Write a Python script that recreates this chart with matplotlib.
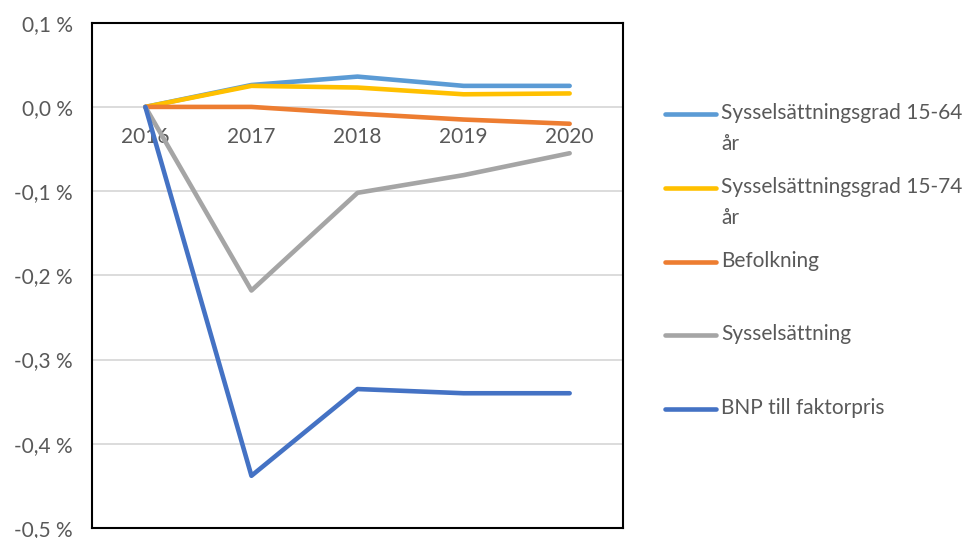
import matplotlib
matplotlib.use("Agg")
import matplotlib.pyplot as plt
from matplotlib.lines import Line2D

years = ["2016", "2017", "2018", "2019", "2020"]
syss_grad_1564 = [0.0, 0.026, 0.036, 0.025, 0.025]
syss_grad_1574 = [0.0, 0.025, 0.023, 0.015, 0.016]
befolkning = [0.0, 0.0, -0.008, -0.015, -0.020]
sysselsattning = [0.0, -0.218, -0.102, -0.081, -0.055]
bnp = [0.0, -0.438, -0.335, -0.340, -0.340]

labels = ["Sysselsättningsgrad 15-64\når", "Sysselsättningsgrad 15-74\når",
          "Befolkning", "Sysselsättning", "BNP till faktorpris"]
colors = ["#5B9BD5", "#FFC000", "#ED7D31", "#A5A5A5", "#4472C4"]
series = [syss_grad_1564, syss_grad_1574, befolkning, sysselsattning, bnp]

plt.rcParams["font.family"] = ["Lato", "DejaVu Sans"]
text_color = "#595959"

fig = plt.figure(figsize=(9.76, 5.38), dpi=100)
ax = fig.add_axes([0.0946, 0.0186, 0.5434, 0.9392])

x = list(range(len(years)))
for vals, col in zip(series, colors):
    ax.plot(x, vals, color=col, lw=3.3, solid_capstyle="round",
            solid_joinstyle="round", zorder=3)

ax.set_xlim(-0.5, len(years) - 0.5)
ax.set_ylim(-0.5, 0.1)
yt = [0.1, 0.0, -0.1, -0.2, -0.3, -0.4, -0.5]
ax.set_yticks(yt)
ax.set_yticklabels([f"{v:.1f}".replace(".", ",") + " %" for v in yt],
                   fontsize=15, color=text_color)
ax.tick_params(axis="y", length=0, pad=14)
ax.set_xticks([])
ax.grid(axis="y", color="#D9D9D9", lw=1.3, zorder=1)
for sp in ax.spines.values():
    sp.set_color("black")
    sp.set_linewidth(1.5)

# category labels sit just under the zero line
for i, yr in enumerate(years):
    ax.annotate(yr, (i, 0), xytext=(0, -21.6), textcoords="offset points",
                ha="center", va="center", fontsize=15, color=text_color,
                zorder=2)

# legend on the right
legend_y = [114, 188, 262, 335, 409]
W, H = 976, 538
for lab, col, ly in zip(labels, colors, legend_y):
    fy = 1 - ly / H
    fig.add_artist(Line2D([665 / W, 716 / W], [fy, fy], color=col, lw=3.3,
                          solid_capstyle="round"))
    fig.text(721 / W, fy + 11 / H, lab, fontsize=15, color=text_color,
             va="top", ha="left", linespacing=1.66)

fig.savefig("out.png", dpi=100)
